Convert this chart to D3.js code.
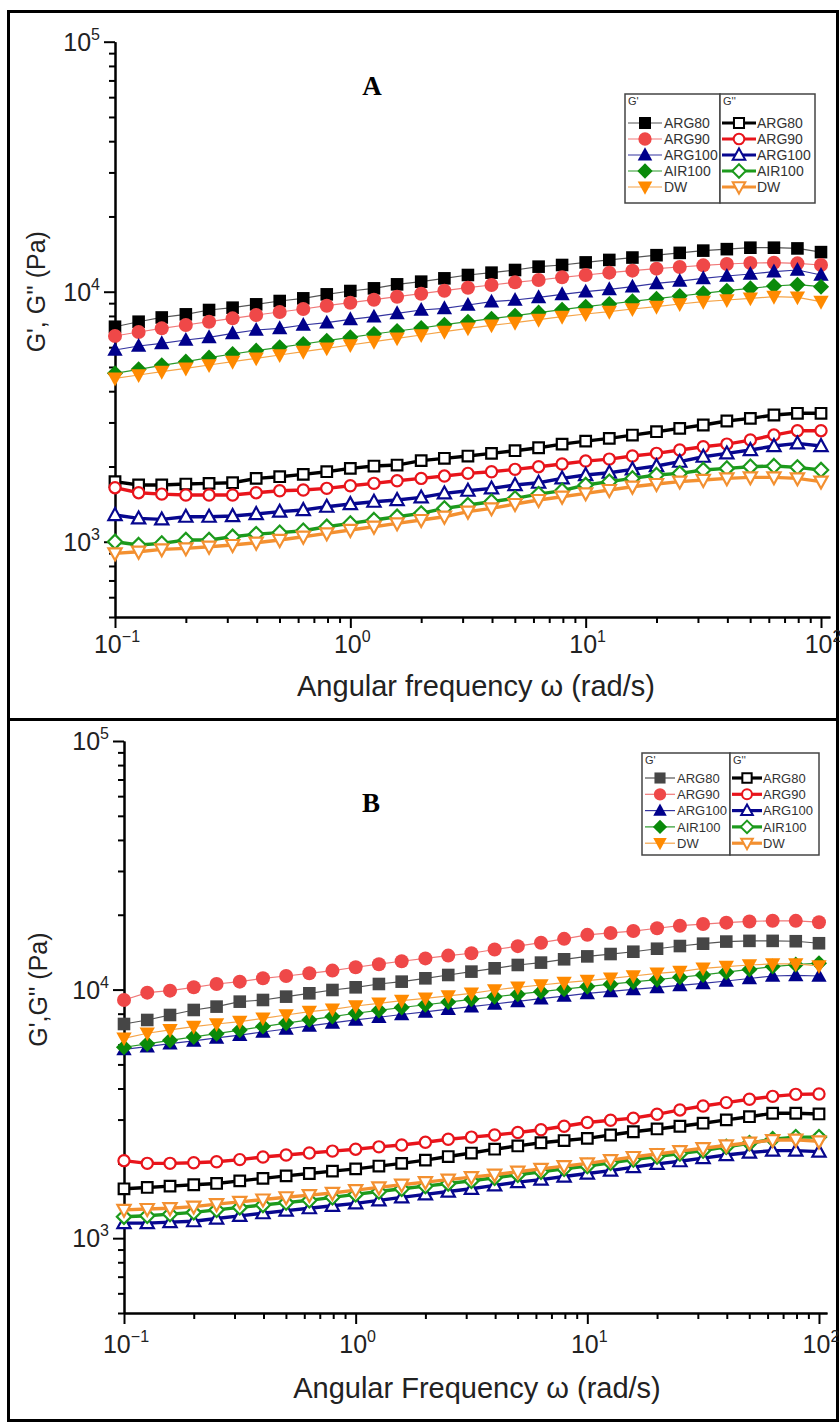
<!DOCTYPE html>
<html><head><meta charset="utf-8">
<script src="https://cdn.jsdelivr.net/npm/d3@7"></script>
<style>body{margin:0;background:#fff} svg{display:block}</style>
</head><body>
<svg id="c" width="840" height="1426"></svg>
<script>
// ---------- DATA ----------
const freq = [0.1,0.126,0.158,0.2,0.251,0.316,0.398,0.501,0.631,0.794,1,1.26,1.58,2,2.51,3.16,3.98,5.01,6.31,7.94,10,12.6,15.8,20,25.1,31.6,39.8,50.1,63.1,79.4,100];
const seriesNames = ["ARG80","ARG90","ARG100","AIR100","DW"];
const xMajorTicks = [0.1, 1, 10, 100];
const xTickExponents = ["\u22121","0","1","2"];
const yMajorTicks = [1000, 10000, 100000];
const yTickExponents = ["3","4","5"];

// Panel A  G'
const A_Gp_ARG80  = [7244,7586,7889,8119,8450,8633,8903,9180,9408,9761,10065,10316,10703,10970,11310,11665,11918,12215,12596,12791,13100,13400,13700,14000,14300,14600,14800,15000,15000,14900,14400];
const A_Gp_ARG90  = [6650,6900,7137,7360,7588,7826,8070,8296,8527,8793,9040,9293,9552,9820,10095,10378,10636,10900,11137,11414,11665,11918,12140,12365,12556,12750,12907,13027,13066,12987,12791];
const A_Gp_ARG100 = [5847,6066,6217,6411,6571,6818,7030,7137,7360,7520,7753,7946,8195,8450,8582,8849,9125,9266,9496,9761,10003,10221,10474,10800,11034,11310,11555,11770,12030,12215,11665];
const A_Gp_AIR100 = [4716,4893,5076,5251,5448,5636,5811,5993,6178,6370,6571,6775,6965,7158,7381,7588,7801,8019,8245,8474,8711,8930,9153,9378,9612,9851,10095,10316,10539,10667,10474];
const A_Gp_DW     = [4503,4643,4787,4937,5092,5251,5415,5584,5757,5938,6122,6311,6510,6712,6920,7137,7337,7520,7729,7946,8144,8320,8527,8711,8930,9125,9266,9408,9552,9496,9125];
// Panel A  G''
const A_Gpp_ARG80  = [1739,1686,1686,1701,1712,1722,1792,1820,1860,1906,1965,2008,2026,2110,2156,2202,2257,2313,2376,2458,2527,2590,2671,2755,2841,2930,3040,3116,3213,3263,3263];
const A_Gpp_ARG90  = [1645,1571,1551,1538,1538,1538,1571,1600,1610,1635,1675,1712,1754,1792,1831,1877,1906,1948,1996,2046,2102,2141,2202,2257,2327,2399,2458,2551,2671,2781,2781];
const A_Gpp_ARG100 = [1279,1240,1229,1259,1259,1267,1291,1319,1339,1381,1415,1446,1468,1505,1561,1600,1635,1686,1722,1792,1848,1888,1948,2008,2090,2188,2257,2327,2414,2474,2414];
const A_Gpp_AIR100 = [1000,970,985,1016,1016,1047,1073,1087,1107,1148,1184,1221,1259,1299,1360,1402,1446,1491,1551,1600,1686,1739,1792,1848,1877,1936,1965,1996,2008,1984,1936];
const A_Gpp_DW     = [898,912,932,941,955,970,991,1016,1047,1080,1114,1148,1184,1221,1259,1319,1360,1415,1468,1514,1561,1610,1660,1701,1739,1766,1792,1809,1809,1792,1739];

// Panel B  G'
const B_Gp_ARG80  = [7271,7546,7904,8279,8540,8942,9082,9367,9661,9963,10212,10532,10762,11100,11448,11810,12180,12560,12838,13240,13600,13900,14200,14600,14970,15300,15600,15700,15700,15650,15360];
const B_Gp_ARG90  = [9082,9721,9902,10212,10532,10762,11100,11343,11630,11922,12300,12650,13000,13350,13700,14000,14500,14950,15440,16000,16600,16900,17200,17650,18070,18350,18590,18800,18920,18900,18670];
const B_Gp_ARG100 = [5750,5900,6060,6220,6390,6560,6750,6940,7140,7340,7550,7740,7940,8140,8340,8540,8750,8970,9190,9420,9660,9840,10020,10200,10390,10590,10830,11080,11340,11400,11340];
const B_Gp_AIR100 = [5860,6050,6250,6450,6650,6870,7100,7330,7560,7790,8030,8250,8470,8690,8910,9140,9360,9580,9810,10040,10280,10510,10740,10970,11210,11450,11750,12050,12380,12600,12770];
const B_Gp_DW     = [6368,6672,6882,7094,7271,7430,7663,7904,8151,8330,8590,8808,9028,9225,9426,9661,9963,10212,10435,10663,10862,11100,11343,11630,11810,12180,12370,12560,12678,12678,12443];
// Panel B  G''
const B_Gpp_ARG80  = [1580,1600,1620,1640,1660,1700,1740,1780,1820,1860,1900,1950,2000,2060,2130,2200,2280,2350,2420,2470,2520,2600,2680,2750,2820,2900,2990,3080,3180,3180,3160];
const B_Gpp_ARG90  = [2050,2000,2000,2010,2030,2070,2120,2160,2200,2240,2280,2330,2370,2430,2500,2550,2600,2660,2730,2820,2920,2980,3040,3150,3280,3400,3510,3620,3720,3790,3800];
const B_Gpp_ARG100 = [1150,1150,1160,1170,1200,1230,1260,1290,1320,1350,1380,1420,1460,1500,1540,1580,1630,1680,1720,1770,1820,1870,1930,1990,2040,2100,2160,2210,2250,2250,2230];
const B_Gpp_AIR100 = [1220,1230,1250,1270,1300,1330,1360,1390,1420,1460,1500,1540,1580,1620,1660,1700,1750,1800,1850,1900,1950,2010,2070,2130,2190,2250,2330,2410,2500,2550,2550];
const B_Gpp_DW     = [1300,1310,1320,1340,1370,1400,1430,1460,1490,1520,1560,1600,1640,1680,1720,1760,1800,1850,1900,1950,2000,2060,2120,2180,2240,2300,2360,2420,2480,2490,2450];

// ---------- STYLE ----------
const markerTypes = ["square","circle","triUp","diamond","triDown"];
const gpFillA = ["#000000","#ef4848","#00008b","#0a8a0a","#ff8a00"];
const gpFillB = ["#464646","#ef4848","#00008b","#0a8a0a","#ff8a00"];
const gpLine  = ["#555555","#f07878","#3434a0","#2a9a2a","#f5a448"];
const gppCol  = ["#000000","#e8141b","#07078f","#1c9a1c","#f39030"];
const FONT = "Liberation Sans, Arial, sans-serif";

function markerPath(type, s){
  switch(type){
    case "square": return `M${-s},${-s}H${s}V${s}H${-s}Z`;
    case "circle": return `M${s},0A${s},${s} 0 1,1 ${-s},0A${s},${s} 0 1,1 ${s},0Z`;
    case "triUp": return `M0,${-s*1.1}L${s*1.05},${s*0.8}L${-s*1.05},${s*0.8}Z`;
    case "triDown": return `M0,${s*1.1}L${s*1.05},${-s*0.8}L${-s*1.05},${-s*0.8}Z`;
    case "diamond": return `M0,${-s*1.15}L${s*1.15},0L0,${s*1.15}L${-s*1.15},0Z`;
  }
}
const gpSize  = {square:6.3,circle:7,triUp:7.3,diamond:7,triDown:7.3};
const gppSize = {square:5.3,circle:5.6,triUp:6.3,diamond:6.2,triDown:6.3};

const svg = d3.select("#c");
svg.append("rect").attr("x",8.5).attr("y",11.5).attr("width",829).attr("height",1409)
  .attr("fill","none").attr("stroke","#000").attr("stroke-width",3);
svg.append("line").attr("x1",8).attr("x2",838).attr("y1",719.5).attr("y2",719.5)
  .attr("stroke","#000").attr("stroke-width",3);

function panel(cfg){
  const g = svg.append("g");
  const x = d3.scaleLog().domain([0.1, cfg.xMax]).range([cfg.x0, cfg.x1]);
  const y = d3.scaleLog().domain([500, 100000]).range([cfg.y0, cfg.y1]);

  const xMinor = x.ticks().filter(v => !xMajorTicks.some(m => Math.abs(m - v) / m < 1e-6));
  g.append("g").attr("transform",`translate(0,${cfg.y0})`)
    .call(d3.axisBottom(x).tickValues(xMinor).tickSize(6).tickSizeOuter(0).tickFormat(""));
  g.append("g").attr("transform",`translate(0,${cfg.y0})`)
    .call(d3.axisBottom(x).tickValues(xMajorTicks).tickSize(11).tickSizeOuter(0).tickFormat(""));
  const yMinor = y.ticks().filter(v => !yMajorTicks.some(m => Math.abs(m - v) / m < 1e-6));
  g.append("g").attr("transform",`translate(${cfg.x0},0)`)
    .call(d3.axisLeft(y).tickValues(yMinor).tickSize(6).tickSizeOuter(0).tickFormat(""));
  g.append("g").attr("transform",`translate(${cfg.x0},0)`)
    .call(d3.axisLeft(y).tickValues(yMajorTicks).tickSize(11).tickSizeOuter(0).tickFormat(""));
  g.selectAll(".domain, .tick line").attr("stroke","#000").attr("stroke-width",2);

  xMajorTicks.forEach((v,i) => {
    const t = g.append("text").attr("x", x(v) + 2).attr("y", cfg.y0 + cfg.xLabDy)
      .attr("text-anchor","middle").attr("font-family",FONT)
      .attr("font-size",25).attr("fill","#222");
    t.append("tspan").text("10");
    t.append("tspan").attr("dy",-11).attr("font-size",16).text(xTickExponents[i]);
  });
  yMajorTicks.forEach((v,i) => {
    const t = g.append("text").attr("x", cfg.x0 - 15).attr("y", y(v) + 9)
      .attr("text-anchor","end").attr("font-family",FONT)
      .attr("font-size",25).attr("fill","#222");
    t.append("tspan").text("10");
    t.append("tspan").attr("dy",-11).attr("font-size",16).text(yTickExponents[i]);
  });

  g.append("text").attr("x", cfg.xTitleX).attr("y", cfg.y0 + cfg.xTitleDy)
    .attr("text-anchor","middle").attr("font-family",FONT)
    .attr("font-size",29).attr("fill","#222").text(cfg.xTitle);
  g.append("text").attr("transform",`translate(${cfg.yTitleX},${y(10000)}) rotate(-90)`)
    .attr("text-anchor","middle").attr("font-family",FONT)
    .attr("font-size",25).attr("fill","#222").text(cfg.yTitle);
  g.append("text").attr("x", cfg.letterX).attr("y", cfg.letterY).attr("text-anchor","middle")
    .attr("font-family","Liberation Serif, Times New Roman, serif").attr("font-weight","bold")
    .attr("font-size",27).attr("fill","#000").text(cfg.letter);

  const line = d3.line().x((d,i) => x(freq[i])).y(d => y(d));
  cfg.gp.forEach((vals, k) => {
    g.append("path").attr("d", line(vals)).attr("fill","none")
      .attr("stroke", gpLine[k]).attr("stroke-width",1.2);
    g.selectAll(null).data(vals).enter().append("path")
      .attr("transform",(d,i) => `translate(${x(freq[i])},${y(d)})`)
      .attr("d", markerPath(markerTypes[k], gpSize[markerTypes[k]]))
      .attr("fill", cfg.gpFill[k]);
  });
  cfg.gpp.forEach((vals, k) => {
    g.append("path").attr("d", line(vals)).attr("fill","none")
      .attr("stroke", gppCol[k]).attr("stroke-width",3.4);
    g.selectAll(null).data(vals).enter().append("path")
      .attr("transform",(d,i) => `translate(${x(freq[i])},${y(d)})`)
      .attr("d", markerPath(markerTypes[k], gppSize[markerTypes[k]]))
      .attr("fill","#fff").attr("stroke", gppCol[k]).attr("stroke-width",2.2);
  });

  const L = cfg.legend;
  const lg = g.append("g");
  lg.append("rect").attr("x",L.x0).attr("y",L.top).attr("width",L.xm-L.x0).attr("height",L.bottom-L.top)
    .attr("fill","#fff").attr("stroke","#444").attr("stroke-width",1.5);
  lg.append("rect").attr("x",L.xm).attr("y",L.top).attr("width",L.x1-L.xm).attr("height",L.bottom-L.top)
    .attr("fill","#fff").attr("stroke","#444").attr("stroke-width",1.5);
  lg.append("text").attr("x",L.x0+3).attr("y",L.top+11).attr("font-size",11)
    .attr("font-family",FONT).attr("fill","#333").text("G'");
  lg.append("text").attr("x",L.xm+3).attr("y",L.top+11).attr("font-size",11)
    .attr("font-family",FONT).attr("fill","#333").text("G''");
  seriesNames.forEach((name,k) => {
    const ry = L.row0 + k*L.dy;
    const s = L.scale;
    lg.append("line").attr("x1",L.x0+3).attr("x2",L.x0+3+L.lineW).attr("y1",ry).attr("y2",ry)
      .attr("stroke",gpLine[k]).attr("stroke-width",1.2);
    lg.append("path").attr("transform",`translate(${L.x0+3+L.lineW/2},${ry})`)
      .attr("d", markerPath(markerTypes[k], gpSize[markerTypes[k]]*s)).attr("fill",cfg.gpFill[k]);
    lg.append("text").attr("x",L.x0+5+L.lineW).attr("y",ry+L.fs*0.36).attr("font-size",L.fs)
      .attr("font-family",FONT).attr("fill","#333").text(name);
    lg.append("line").attr("x1",L.xm+2).attr("x2",L.xm+2+L.lineW).attr("y1",ry).attr("y2",ry)
      .attr("stroke",gppCol[k]).attr("stroke-width",3.2);
    lg.append("path").attr("transform",`translate(${L.xm+2+L.lineW/2},${ry})`)
      .attr("d", markerPath(markerTypes[k], gppSize[markerTypes[k]]*s))
      .attr("fill","#fff").attr("stroke",gppCol[k]).attr("stroke-width",2);
    lg.append("text").attr("x",L.xm+3+L.lineW).attr("y",ry+L.fs*0.36).attr("font-size",L.fs)
      .attr("font-family",FONT).attr("fill","#333").text(name);
  });
}

panel({
  x0:115, x1:830, xMax:109.2, y0:617, y1:41.7, xLabDy:36, xTitleDy:79,
  xTitle:"Angular frequency \u03c9 (rad/s)", xTitleX:476, yTitle:"G', G'' (Pa)", yTitleX:45,
  letter:"A", letterX:372, letterY:95,
  gp:[A_Gp_ARG80,A_Gp_ARG90,A_Gp_ARG100,A_Gp_AIR100,A_Gp_DW],
  gpp:[A_Gpp_ARG80,A_Gpp_ARG90,A_Gpp_ARG100,A_Gpp_AIR100,A_Gpp_DW],
  gpFill: gpFillA,
  legend:{x0:625, xm:720, x1:815, top:94, bottom:203, row0:123, dy:16, lineW:34, fs:14, scale:0.95}
});
panel({
  x0:124, x1:827, xMax:108.3, y0:1313, y1:741, xLabDy:40, xTitleDy:85,
  xTitle:"Angular Frequency \u03c9 (rad/s)", xTitleX:477, yTitle:"G',G'' (Pa)", yTitleX:47,
  letter:"B", letterX:371, letterY:812,
  gp:[B_Gp_ARG80,B_Gp_ARG90,B_Gp_ARG100,B_Gp_AIR100,B_Gp_DW],
  gpp:[B_Gpp_ARG80,B_Gpp_ARG90,B_Gpp_ARG100,B_Gpp_AIR100,B_Gpp_DW],
  gpFill: gpFillB,
  legend:{x0:642, xm:730, x1:819, top:753, bottom:855, row0:778, dy:16.3, lineW:30, fs:13, scale:0.88}
});
</script>
</body></html>
